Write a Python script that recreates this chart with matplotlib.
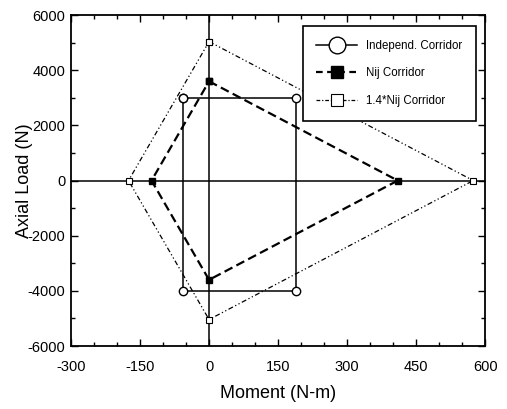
import numpy as np
import matplotlib.pyplot as plt
from matplotlib.lines import Line2D
from matplotlib.ticker import MultipleLocator

plt.rcParams['font.family'] = ['Liberation Sans', 'DejaVu Sans']
plt.rcParams['axes.unicode_minus'] = False

# corridor corners (moment N-m, axial load N)
indep_m = [-57, 190, 190, -57, -57]
indep_f = [3000, 3000, -4000, -4000, 3000]
nij_m = [0, 410, 0, -125, 0]
nij_f = [3600, 0, -3600, 0, 3600]
nij14_m = [0, 574, 0, -175, 0]
nij14_f = [5040, 0, -5040, 0, 5040]

fig = plt.figure(figsize=(5.07, 4.09), dpi=100)
ax = fig.add_axes([0.140, 0.154, 0.817, 0.809])

# zero axes through the plot
ax.axhline(0, color='k', lw=1.1, zorder=1)
ax.axvline(0, color='k', lw=1.1, zorder=1)

ax.plot(indep_m, indep_f, '-', color='k', lw=1.1, marker='o', ms=6,
        mfc='white', mec='k', mew=1.0, zorder=3)
ax.plot(nij_m, nij_f, color='k', lw=1.6, ls=(0, (4, 2)), marker='s', ms=4,
        mfc='k', mec='k', zorder=3)
ax.plot(nij14_m, nij14_f, color='k', lw=0.9, ls=(0, (4, 2, 1, 2, 1, 2)),
        marker='s', ms=4, mfc='white', mec='k', mew=0.8, zorder=3)

ax.set_xlim(-300, 600)
ax.set_ylim(-6000, 6000)
ax.xaxis.set_major_locator(MultipleLocator(150))
ax.xaxis.set_minor_locator(MultipleLocator(50))
ax.yaxis.set_major_locator(MultipleLocator(2000))
ax.yaxis.set_minor_locator(MultipleLocator(1000))
ax.tick_params(which='both', direction='in', top=True, right=True, width=1.0)
ax.tick_params(which='major', length=5, labelsize=10.5)
ax.tick_params(axis='x', which='major', pad=10)
ax.tick_params(axis='y', which='major', pad=4)
ax.tick_params(which='minor', length=3)
for s in ax.spines.values():
    s.set_linewidth(1.3)

ax.set_xlabel('Moment (N-m)', fontsize=13, labelpad=8)
ax.set_ylabel('Axial Load (N)', fontsize=13, labelpad=-4)

handles = [
    Line2D([], [], color='k', lw=1.1, marker='o', ms=12, mfc='white', mec='k'),
    Line2D([], [], color='k', lw=1.6, ls=(0, (3, 2)), marker='s', ms=8, mfc='k', mec='k'),
    Line2D([], [], color='k', lw=0.9, ls=(0, (3, 1.5, 1, 1.5)), marker='s', ms=8,
           mfc='white', mec='k', mew=0.8),
]
labels = ['Independ. Corridor', 'Nij Corridor', '1.4*Nij Corridor']
leg = ax.legend(handles, labels, loc='upper right', bbox_to_anchor=(0.978, 0.967),
                fontsize=8.3, handlelength=3.5, handletextpad=0.8, labelspacing=1.35,
                borderpad=1.2, borderaxespad=0, fancybox=False, edgecolor='k',
                framealpha=1)
leg.get_frame().set_linewidth(1.2)

fig.savefig('out.png', dpi=100)
